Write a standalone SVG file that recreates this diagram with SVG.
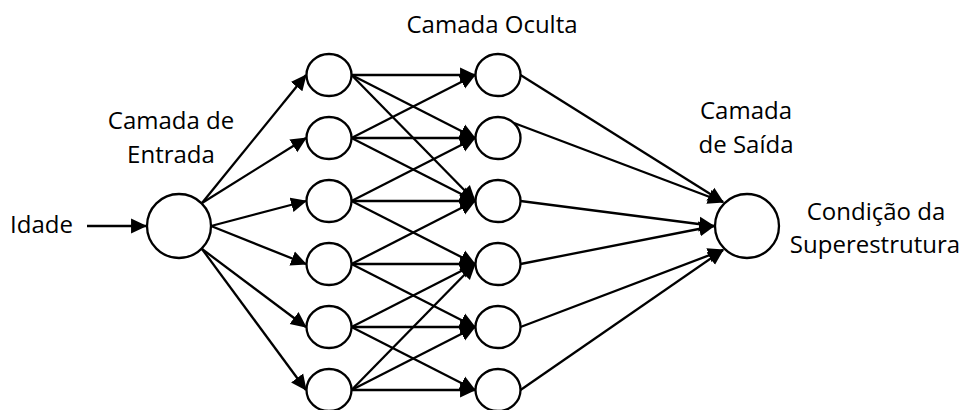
<svg xmlns="http://www.w3.org/2000/svg" width="965" height="410" viewBox="0 0 965 410">
<style>
.n{fill:#fff;stroke:#000;stroke-width:2.3}
.c line{stroke:#000;stroke-width:2.3;marker-end:url(#ah)}
text{font-family:"Open Sans","Liberation Sans",sans-serif;font-size:24px;fill:#000}
.m{text-anchor:middle}
</style>
<defs>
<marker id="ah" markerUnits="userSpaceOnUse" markerWidth="16" markerHeight="16" viewBox="0 0 15 14" refX="14" refY="7" orient="auto">
<path d="M0,0 L15,7 L0,14 z" fill="#000"/>
</marker>
</defs>
<rect width="965" height="410" fill="#fff"/>
<g id="labels">
<text x="10" y="233">Idade</text>
<text class="m" x="171" y="129">Camada de</text>
<text class="m" x="171" y="163">Entrada</text>
<text class="m" x="492" y="33">Camada Oculta</text>
<text class="m" x="746" y="119">Camada</text>
<text class="m" x="746" y="153">de Saída</text>
<text class="m" x="876" y="220">Condição da</text>
<text class="m" x="875" y="253">Superestrutura</text>
</g>
<g class="c" id="connectors">
<line x1="87" y1="226" x2="146" y2="226"/>
<line x1="202" y1="203" x2="306" y2="75"/>
<line x1="202" y1="203" x2="306" y2="138"/>
<line x1="211" y1="226" x2="306" y2="201"/>
<line x1="211" y1="226" x2="306" y2="264"/>
<line x1="202" y1="249" x2="306" y2="327"/>
<line x1="202" y1="249" x2="306" y2="390"/>
<line x1="351.5" y1="75" x2="475" y2="75"/>
<line x1="351.5" y1="75" x2="475" y2="138"/>
<line x1="351.5" y1="75" x2="475" y2="201"/>
<line x1="351.5" y1="138" x2="475" y2="75"/>
<line x1="351.5" y1="138" x2="475" y2="138"/>
<line x1="351.5" y1="138" x2="475" y2="201"/>
<line x1="351.5" y1="201" x2="475" y2="138"/>
<line x1="351.5" y1="201" x2="475" y2="201"/>
<line x1="351.5" y1="201" x2="475" y2="264"/>
<line x1="351.5" y1="264" x2="475" y2="201"/>
<line x1="351.5" y1="264" x2="475" y2="264"/>
<line x1="351.5" y1="264" x2="475" y2="327"/>
<line x1="351.5" y1="327" x2="475" y2="264"/>
<line x1="351.5" y1="327" x2="475" y2="327"/>
<line x1="351.5" y1="327" x2="475" y2="390"/>
<line x1="351.5" y1="390" x2="475" y2="264"/>
<line x1="351.5" y1="390" x2="475" y2="327"/>
<line x1="351.5" y1="390" x2="475" y2="390"/>
<line x1="520.5" y1="75" x2="723" y2="202"/>
<line x1="514" y1="123" x2="723" y2="202"/>
<line x1="520.5" y1="201" x2="714" y2="226"/>
<line x1="520.5" y1="264" x2="714" y2="226"/>
<line x1="520.5" y1="327" x2="723" y2="250"/>
<line x1="520.5" y1="390" x2="723" y2="250"/>
</g>
<g id="input"><circle class="n" cx="179" cy="226" r="32"/></g>
<g id="h1-1"><ellipse class="n" cx="329" cy="75" rx="22.5" ry="21"/></g>
<g id="h1-2"><ellipse class="n" cx="329" cy="138" rx="22.5" ry="21"/></g>
<g id="h1-3"><ellipse class="n" cx="329" cy="201" rx="22.5" ry="21"/></g>
<g id="h1-4"><ellipse class="n" cx="329" cy="264" rx="22.5" ry="21"/></g>
<g id="h1-5"><ellipse class="n" cx="329" cy="327" rx="22.5" ry="21"/></g>
<g id="h1-6"><ellipse class="n" cx="329" cy="390" rx="22.5" ry="21"/></g>
<g id="h2-1"><ellipse class="n" cx="498" cy="75" rx="22.5" ry="21"/></g>
<g id="h2-2"><ellipse class="n" cx="498" cy="138" rx="22.5" ry="21"/></g>
<g id="h2-3"><ellipse class="n" cx="498" cy="201" rx="22.5" ry="21"/></g>
<g id="h2-4"><ellipse class="n" cx="498" cy="264" rx="22.5" ry="21"/></g>
<g id="h2-5"><ellipse class="n" cx="498" cy="327" rx="22.5" ry="21"/></g>
<g id="h2-6"><ellipse class="n" cx="498" cy="390" rx="22.5" ry="21"/></g>
<g id="output"><circle class="n" cx="747" cy="226" r="32"/></g>
</svg>
